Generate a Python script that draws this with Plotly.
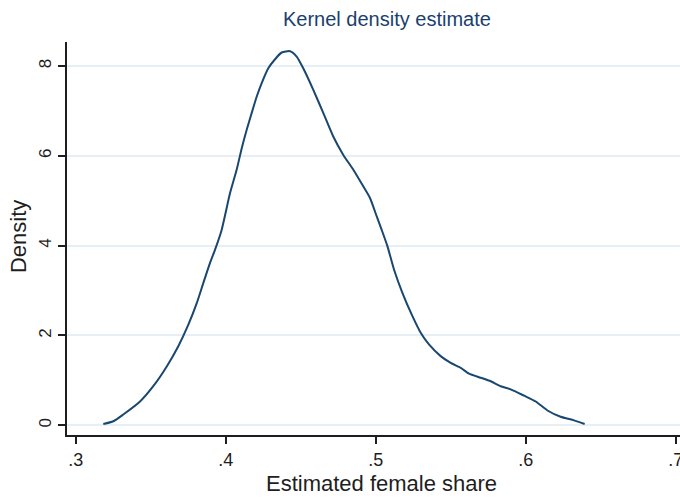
import plotly.graph_objects as go

# Kernel density curve
share = [0.3184, 0.3251, 0.3317, 0.3429, 0.3517, 0.3607, 0.3684, 0.3751, 0.3807, 0.3851,
         0.3895, 0.3929, 0.3973, 0.4029, 0.4073, 0.4107, 0.4140, 0.4173, 0.4207, 0.4240,
         0.4284, 0.4329, 0.4373, 0.4429, 0.4473, 0.4517, 0.4584, 0.4651, 0.4717, 0.4784,
         0.4851, 0.4917, 0.4962, 0.5007, 0.5040, 0.5078, 0.5122, 0.5178, 0.5245, 0.5300,
         0.5355, 0.5433, 0.5500, 0.5567, 0.5622, 0.5700, 0.5767, 0.5833, 0.5900, 0.5989,
         0.6067, 0.6145, 0.6233, 0.6322, 0.6393]
density = [0.03, 0.09, 0.24, 0.53, 0.87, 1.31, 1.76, 2.24, 2.72, 3.17,
           3.61, 3.91, 4.35, 5.17, 5.69, 6.17, 6.58, 6.95, 7.32, 7.62,
           7.95, 8.15, 8.30, 8.33, 8.21, 7.95, 7.47, 6.95, 6.43, 6.02,
           5.69, 5.32, 5.06, 4.65, 4.35, 3.99, 3.47, 2.95, 2.43, 2.06,
           1.80, 1.54, 1.39, 1.28, 1.15, 1.06, 0.98, 0.87, 0.80, 0.66,
           0.53, 0.33, 0.19, 0.11, 0.03]

x_tick_vals = [0.3, 0.4, 0.5, 0.6, 0.7]
x_tick_text = [".3", ".4", ".5", ".6", ".7"]
y_tick_vals = [0, 2, 4, 6, 8]
y_tick_text = ["0", "2", "4", "6", "8"]

title_text = "Kernel density estimate"
x_title = "Estimated female share"
y_title = "Density"

LINE = "#1a476f"
FONT = "Liberation Sans, Arial, sans-serif"
INK = "#1e1e1e"

fig = go.Figure()
fig.add_trace(go.Scatter(x=share, y=density, mode="lines",
                         line=dict(color=LINE, width=2, shape="spline", smoothing=0.6),
                         showlegend=False, hoverinfo="skip"))

fig.update_layout(
    width=680, height=499,
    margin=dict(l=67, r=0, t=42, b=64, autoexpand=False),
    paper_bgcolor="white", plot_bgcolor="white",
    font=dict(family=FONT, color=INK),
    annotations=[
        dict(text=title_text, xref="paper", yref="paper", x=0.5228, y=1.059,
             xanchor="center", yanchor="middle", showarrow=False,
             font=dict(size=20, color="#1a3f6f", family=FONT)),
        dict(text=x_title, xref="paper", yref="paper", x=0.513, y=-0.124,
             xanchor="center", yanchor="middle", showarrow=False,
             font=dict(size=22, color=INK, family=FONT)),
        dict(text=y_title, xref="paper", yref="paper", x=-0.080, y=0.506,
             xanchor="center", yanchor="middle", textangle=-90, showarrow=False,
             font=dict(size=22, color=INK, family=FONT)),
    ],
)
fig.update_xaxes(
    range=[0.2942, 0.70287], tickvals=x_tick_vals, ticktext=x_tick_text,
    showgrid=False, zeroline=False, showline=True, linecolor=INK, linewidth=2,
    ticks="outside", ticklen=7, tickwidth=1.5, tickcolor=INK,
    tickfont=dict(size=18, family=FONT, color=INK), ticklabelstandoff=0,
    ticklabeloverflow="allow", automargin=False,
)
fig.update_yaxes(
    range=[-0.216, 8.534], tickvals=y_tick_vals, ticktext=y_tick_text, tickangle=-90,
    showgrid=True, gridcolor="#e6eff3", gridwidth=1.5, zeroline=False,
    showline=True, linecolor=INK, linewidth=2,
    ticks="outside", ticklen=7, tickwidth=1.5, tickcolor=INK,
    tickfont=dict(size=17, family=FONT, color=INK), ticklabelstandoff=0,
    automargin=False,
)

fig.write_html("out.html", config={"displayModeBar": False},
               post_script="document.body.style.margin='0px';")
